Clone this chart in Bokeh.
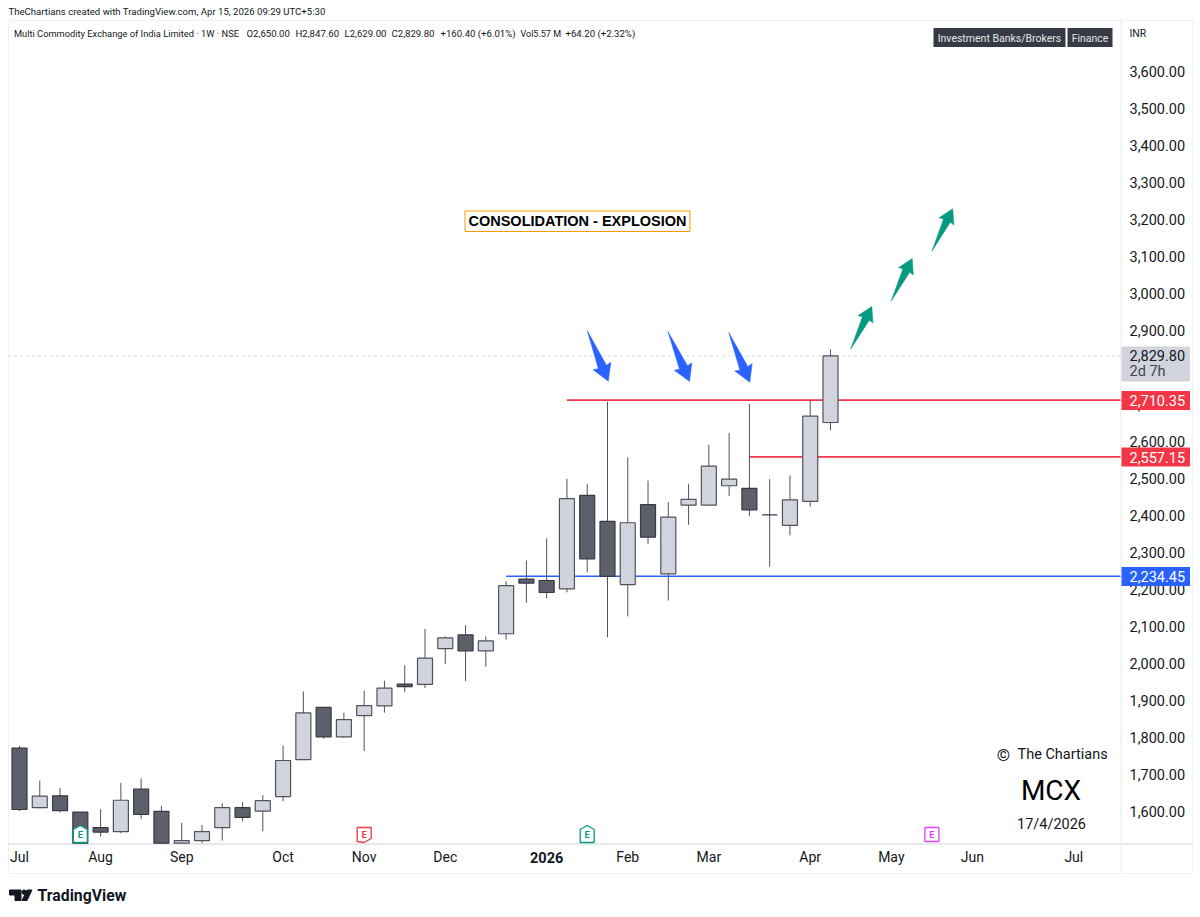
import numpy as np
from bokeh.core.properties import value
from bokeh.embed import file_html
from bokeh.models import BoxAnnotation, FixedTicker, Label, LinearAxis, Range1d
from bokeh.plotting import figure
from bokeh.resources import INLINE

# weekly candles (index 0 = first week of Jul)
# a few Jul-Sep candles run out of the chart panel at the bottom, those stop at the panel edge
opens = [1770, 1609, 1641, 1597, 1555, 1544, 1659, 1599, 1513, 1520, 1555, 1609, 1599.5, 1639, 1739, 1880, 1800.5,
         1858, 1884, 1943, 1942, 2039, 2076, 2033, 2079, 2226.5, 2223, 2200.5, 2453, 2383, 2212, 2428, 2241, 2426.5,
         2426.5, 2479, 2472, 2400.5, 2372, 2437, 2650]
highs = [1776, 1682, 1662, 1597, 1605, 1676, 1688, 1614, 1568, 1562, 1621, 1624, 1643, 1777, 1923, 1881, 1866,
         1925, 1952, 1994, 2092, 2072, 2102, 2072, 2221, 2277, 2337, 2498, 2484, 2706, 2556, 2493, 2435, 2484,
         2590, 2622, 2700, 2497, 2507, 2709.5, 2847.6]
lows = [1600, 1607, 1596, 1513, 1531, 1540, 1579, 1513, 1513, 1513, 1520, 1572, 1545, 1626.5, 1739, 1795, 1797,
        1762, 1866, 1921, 1932, 1997, 1951, 1990, 2063.5, 2163, 2175, 2191, 2245, 2070, 2126, 2322, 2169, 2373.5,
        2426, 2451, 2397, 2260, 2345, 2423, 2629]
closes = [1604, 1640, 1601, 1513, 1543, 1629, 1590.5, 1513, 1520, 1544, 1609, 1583, 1628, 1736.5, 1865, 1800.5, 1847,
          1885, 1932, 1936, 2013, 2068, 2033, 2060, 2209, 2216, 2190.5, 2444, 2281.6, 2234, 2379, 2340, 2394, 2442,
          2532, 2497, 2414, 2400.5, 2441, 2667, 2829.8]

month_ticks = [0, 4, 8, 13, 17, 21, 30, 34, 39, 43, 47, 52]
month_labels = ["Jul", "Aug", "Sep", "Oct", "Nov", "Dec", "Feb", "Mar", "Apr", "May", "Jun", "Jul"]
year_tick = 26
year_label = "2026"
price_ticks = list(range(1600, 3700, 100))

level_prices = [2710.35, 2557.15, 2234.45]
level_starts = [27, 36, 24]
level_colors = ["#f23645", "#f23645", "#2962ff"]
last_close = 2829.80

# hand drawn arrows: tail and tip as (week, price)
blue_tails = [(28.0, 2898.6), (31.98, 2896), (34.98, 2893)]
blue_tips = [(29.04, 2761.6), (33.05, 2760.8), (36.02, 2759)]
green_tails = [(40.99, 2848), (42.99, 2978), (45.0, 3113)]
green_tips = [(42.04, 2963.5), (44.03, 3093), (46.03, 3228)]

earning_weeks = [3, 17, 28, 45]
earning_price = 1536.5

FONT = "Roboto"
W, H = 1200, 917
PX_X = 20.275  # px per week
PX_Y = 0.37    # px per rupee
X0 = 19        # page x of week 0
Y0 = 70.5      # page y of 3,600


def week_at(px):
    return (px - X0) / PX_X


def price_at(py):
    return 3600 - (py - Y0) / PX_Y


# annotations get clipped to the frame, so the frame fills the page and the axes sit inside it
p = figure(width=W, height=H, output_backend="svg", toolbar_location=None,
           x_range=Range1d(week_at(0), week_at(W)), y_range=Range1d(price_at(H), price_at(0)),
           min_border_left=0, min_border_right=0, min_border_top=0, min_border_bottom=0,
           x_axis_location=None, y_axis_location=None)
p.outline_line_color = None
p.grid.visible = False

xaxis = LinearAxis(ticker=FixedTicker(ticks=month_ticks), fixed_location=price_at(843))
xaxis.major_label_overrides = dict(zip(month_ticks, month_labels))
xaxis.major_label_text_font = FONT
xaxis.major_label_text_font_size = "14px"
xaxis.major_label_text_color = "#131722"
xaxis.major_tick_line_color = None
xaxis.minor_tick_line_color = None
xaxis.axis_line_color = None
xaxis.major_label_standoff = -1
p.add_layout(xaxis, "below")

yaxis = LinearAxis(ticker=FixedTicker(ticks=price_ticks), fixed_location=week_at(1120))
yaxis.major_label_overrides = {v: f"{v:,.2f}" for v in price_ticks}
yaxis.major_label_text_font = FONT
yaxis.major_label_text_font_size = "14.5px"
yaxis.major_label_text_color = "#131722"
yaxis.major_tick_line_color = None
yaxis.minor_tick_line_color = None
yaxis.axis_line_color = None
yaxis.major_label_standoff = 3
p.add_layout(yaxis, "right")


def text(s, px, py, size, color="#131722", font=FONT, align="left", style="normal"):
    p.add_layout(Label(x=px, y=H - py, x_units="screen", y_units="screen", text=s, text_font=font,
                       text_font_size=size, text_color=color, text_align=align, text_baseline="middle",
                       text_font_style=style, level="overlay"))


def box(x0, x1, y0, y1, color, level="annotation"):
    p.add_layout(BoxAnnotation(left=x0, right=x1, top=H - y0, bottom=H - y1, left_units="screen",
                               right_units="screen", top_units="screen", bottom_units="screen",
                               fill_color=color, fill_alpha=1, line_color=None, level=level))


def outline(x0, x1, y0, y1, color, level="annotation"):
    p.add_layout(BoxAnnotation(left=x0, right=x1, top=H - y0, bottom=H - y1, left_units="screen",
                               right_units="screen", top_units="screen", bottom_units="screen",
                               fill_alpha=0, line_color=color, line_alpha=1, line_width=1, level=level))


def arrow_shape(tail, tip):
    # turn tail/tip into an outline, working in px so that the shape is not skewed
    dx = (tip[0] - tail[0]) * PX_X
    dy = (tip[1] - tail[1]) * PX_Y
    along = [0, 0.72, 0.70, 1.0, 0.70, 0.72]
    side = [0, -0.08, -0.175, 0, 0.175, 0.08]
    xs = [tail[0] + (a * dx - s * dy) / PX_X for a, s in zip(along, side)]
    ys = [tail[1] + (a * dy + s * dx) / PX_Y for a, s in zip(along, side)]
    return xs, ys


# panel edges
outline(8, 1192, 20, 873, "#f0f1f4", level="underlay")
box(1120, 1121, 20, 873, "#e8e9ec", level="underlay")
box(8, 1192, 842.5, 844.5, "#e8e9ec", level="underlay")

# dotted line at the last price and the drawn levels sit behind the candles
p.segment(week_at(8), last_close, week_at(1120), last_close, line_color="#c9ccd4", line_dash="dotted", line_width=1)
p.segment(level_starts, level_prices, [week_at(1120)] * 3, level_prices, line_color=level_colors, line_width=1.6)

up = [i for i in range(len(opens)) if closes[i] > opens[i]]
down = [i for i in range(len(opens)) if closes[i] <= opens[i]]
wick_x = list(range(len(opens)))
p.segment(wick_x, lows, wick_x, highs, line_color="#50535e", line_width=1)
p.vbar(up, 0.74, [opens[i] for i in up], [closes[i] for i in up],
       fill_color="#d1d4dc", line_color="#50535e", line_width=1.2)
p.vbar(down, 0.74, [closes[i] for i in down], [opens[i] for i in down],
       fill_color="#5d606b", line_color="#363a45", line_width=1.2)

for tail, tip in zip(blue_tails, blue_tips):
    xs, ys = arrow_shape(tail, tip)
    p.patch(xs, ys, fill_color="#2962ff", line_color="#2962ff", line_width=0.5)
for tail, tip in zip(green_tails, green_tips):
    xs, ys = arrow_shape(tail, tip)
    p.patch(xs, ys, fill_color="#089981", line_color="#089981", line_width=0.5)

# earnings flags
flag_up = ([-7, -7, 0, 7, 7], [8, -5, -9, -5, 8])
flag_down = ([-7, -7, 7, 7, 0], [7, -7, -7, 4, 8])
flag_box = ([-7, -7, 7, 7], [7, -7, -7, 7])
flags = [(flag_up, "#089981"), (flag_down, "#f23645"), (flag_up, "#089981"), (flag_box, "#e040fb")]
for week, (shape, color) in zip(earning_weeks, flags):
    xs = [week + v / PX_X for v in shape[0]]
    ys = [earning_price - v / PX_Y for v in shape[1]]
    p.patch(xs, ys, fill_color="white", line_color=color, line_width=1.3)
    p.text([week], [earning_price], ["E"], text_color=color, text_font=value(FONT), text_font_size="9.5px",
           text_align="center", text_baseline="middle", text_font_style="bold")

# header
text("TheChartians created with TradingView.com, Apr 15, 2026 09:29 UTC+5:30", 8, 11, "9.6px")
text("Multi Commodity Exchange of India Limited · 1W · NSE", 13.5, 33, "9.3px")
for s, px, size in [("O2,650.00", 246, "9.6px"), ("H2,847.60", 295, "9.6px"), ("L2,629.00", 344, "9.6px"),
                    ("C2,829.80", 391, "9.6px"), ("+160.40 (+6.01%)", 440, "9.6px"), ("Vol5.57 M", 520, "9px"),
                    ("+64.20 (+2.32%)", 565, "9.6px")]:
    text(s, px, 33, size)
text("INR", 1129, 33, "10.5px")

box(933, 1065, 27.5, 46.5, "#363a45")
box(1067, 1112, 27.5, 46.5, "#363a45")
text("Investment Banks/Brokers", 999, 37.5, "10.5px", color="#e6e7ea", align="center")
text("Finance", 1089.5, 37.5, "10.5px", color="#e6e7ea", align="center")

# price tags over the axis
box(1121, 1189.5, 346, 381, "#d1d4dc")
text("2,829.80", 1129, 355, "14.5px")
text("2d 7h", 1129, 371, "14.5px", color="#434651")
box(1121, 1189.5, 390.5, 409.5, "#f23645")
text("2,710.35", 1129, 400, "14.5px", color="white")
box(1121, 1189.5, 447, 466, "#f23645")
text("2,557.15", 1129, 456.5, "14.5px", color="white")
box(1121, 1189.5, 566.5, 585.5, "#2962ff")
text("2,234.45", 1129, 576, "14.5px", color="white")

# x label in bold, a real tick label cannot carry its own style
text(year_label, X0 + year_tick * PX_X, 857, "14.5px", align="center", style="bold")

text("CONSOLIDATION - EXPLOSION", 577, 220.5, "14.5px", color="#000000", font="Liberation Sans", align="center",
     style="bold")
outline(464.5, 689.5, 210.5, 231, "#ff9800")

text("©", 1003, 754, "17px", align="center")
text("The Chartians", 1017, 754, "14.5px")
text("MCX", 1050.5, 790, "28px", color="#000000", align="center")
text("17/4/2026", 1051, 823.5, "14.5px", align="center")

# logo and name at the foot
logo_color = "#131722"
p.patch(week_at(np.array([9, 20.5, 20.5, 14.5, 14.5, 9])), price_at(np.array([889.5, 889.5, 900, 900, 894.5, 894.5])),
        color=logo_color)
p.patch(week_at(np.array([26.5, 31.5, 26.5, 21.5])), price_at(np.array([889.5, 889.5, 900, 900])), color=logo_color)
angles = np.linspace(0, 2 * np.pi, 16)
p.patch(week_at(23.6 + 2.2 * np.cos(angles)), price_at(891.7 + 2.2 * np.sin(angles)), color=logo_color)
text("TradingView", 37, 895, "15.8px", style="bold")

open("out.html", "w").write(file_html(p, INLINE))
